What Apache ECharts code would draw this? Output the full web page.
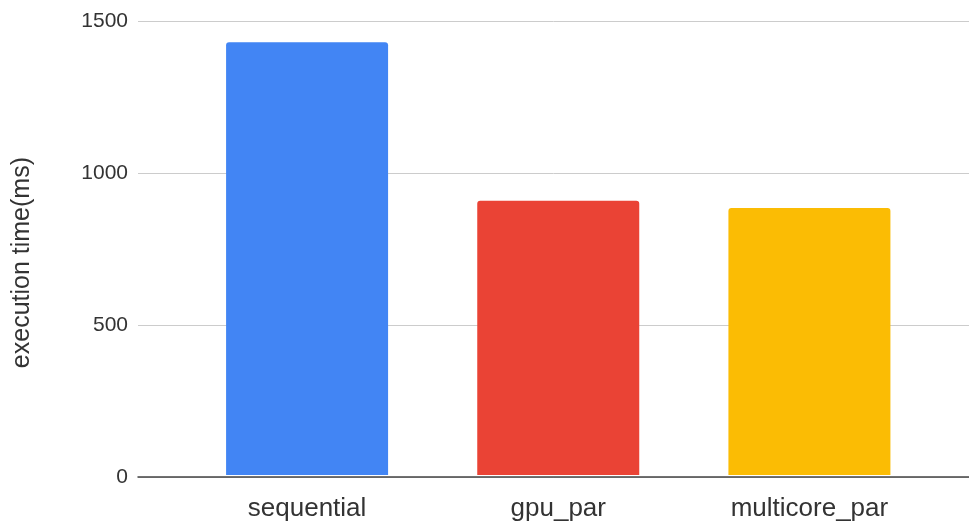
<!DOCTYPE html>
<html>
<head>
<meta charset="utf-8">
<script src="https://cdn.jsdelivr.net/npm/echarts@6/dist/echarts.min.js"></script>
<style>
html,body{margin:0;padding:0;background:#fff;}
#c{width:969px;height:522px;}
</style>
</head>
<body>
<div id="c"></div>
<script>
var categories = ['sequential', 'gpu_par', 'multicore_par'];
var values = [1430, 906, 882];
var barColors = ['#4285F4', '#EA4335', '#FBBC04'];
var yTicks = [0, 500, 1000, 1500];
var yTitle = 'execution time(ms)';

var FONT = 'Liberation Sans, Arial, sans-serif';
var chart = echarts.init(document.getElementById('c'), null, {renderer: 'canvas'});
chart.setOption({
  backgroundColor: '#fff',
  animation: false,
  grid: [
    {left: 138, right: 0, top: 21, bottom: 45},
    {left: 181.5, right: 34, top: 21, bottom: 45}
  ],
  xAxis: [
    {gridIndex: 0, type: 'category', data: [''], axisTick: {show: false}, axisLabel: {show: false},
     axisLine: {show: true, lineStyle: {color: '#444', width: 1.5}}},
    {gridIndex: 1, type: 'category', data: categories, axisTick: {show: false},
     axisLine: {show: false},
     axisLabel: {color: '#333', fontSize: 26, fontFamily: FONT, margin: 21}}
  ],
  yAxis: [
    {gridIndex: 0, type: 'value', min: yTicks[0], max: yTicks[yTicks.length - 1], interval: 500,
     axisLine: {show: false}, axisTick: {show: false},
     axisLabel: {color: '#333', fontSize: 21, fontFamily: FONT, margin: 10,
                 formatter: function (v) { return String(v); }},
     splitLine: {lineStyle: {color: '#cccccc', width: 1}}},
    {gridIndex: 1, type: 'value', min: yTicks[0], max: yTicks[yTicks.length - 1], interval: 500,
     show: false, splitLine: {show: false}}
  ],
  graphic: [{
    type: 'text', left: 10, top: 157, rotation: Math.PI / 2,
    x: 0, y: 0,
    style: {text: yTitle, fill: '#333', font: '25px ' + FONT}
  }],
  series: [{
    type: 'bar', xAxisIndex: 1, yAxisIndex: 1,
    barWidth: '64.5%',
    data: values.map(function (v, i) {
      return {value: v, itemStyle: {color: barColors[i], borderRadius: [3, 3, 0, 0]}};
    })
  }]
});
</script>
</body>
</html>
